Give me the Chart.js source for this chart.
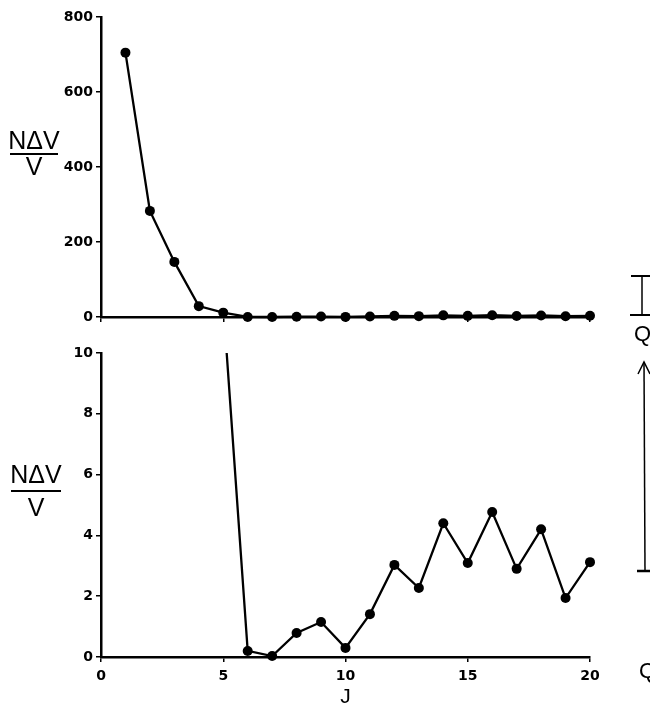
<!DOCTYPE html>
<html>
<head>
<meta charset="utf-8">
<script src="https://cdn.jsdelivr.net/npm/chart.js@4/dist/chart.umd.min.js"></script>
<style>
  body { margin: 0; background: #fff; }
  #wrap { position: relative; width: 650px; height: 710px; overflow: hidden; background: #fff; }
  .cv { position: absolute; left: 0; }
  .lab { position: absolute; font-family: "Liberation Sans", Arial, sans-serif; font-size: 25px; line-height: 25px; color: #000; text-align: center; width: 54px; }
  .bar { position: absolute; height: 2px; background: #000; width: 48px; left: 10px; }
  .q { position: absolute; font-family: "Liberation Sans", Arial, sans-serif; font-size: 22px; line-height: 22px; color: #000; }
</style>
</head>
<body>
<div id="wrap">
  <canvas id="topChart" class="cv" style="top:0" width="600" height="330"></canvas>
  <canvas id="bottomChart" class="cv" style="top:330px" width="600" height="380"></canvas>

  <div class="lab" style="left:7px; top:128px">NΔV</div>
  <div class="bar" style="top:153px"></div>
  <div class="lab" style="left:7px; top:154px">V</div>

  <div class="lab" style="left:9px; top:462px">NΔV</div>
  <div class="bar" style="top:490px; left:11px; width:50px"></div>
  <div class="lab" style="left:9px; top:495px">V</div>

  <svg style="position:absolute; left:0; top:0" width="650" height="710">
    <g stroke="#000" fill="none">
      <line x1="631" y1="276" x2="650" y2="276" stroke-width="2"/>
      <line x1="642" y1="276" x2="642" y2="315" stroke-width="1.5"/>
      <line x1="630" y1="315" x2="650" y2="315" stroke-width="2"/>
      <line x1="644" y1="362" x2="645" y2="571" stroke-width="1.5"/>
      <polyline points="638,374 644,362 650,374" stroke-width="1.5"/>
      <line x1="637" y1="571" x2="650" y2="571" stroke-width="2.5"/>
    </g>
  </svg>
  <div class="q" style="left:634px; top:323px">Q</div>
  <div class="q" style="left:639px; top:660px">Q</div>
</div>
<script>
// J levels and N*dV/V values
const J = [1, 2, 3, 4, 5, 6, 7, 8, 9, 10, 11, 12, 13, 14, 15, 16, 17, 18, 19, 20];
const nDeltaV = [705, 283, 147, 29, 11.6, 0.2, 0.03, 0.79, 1.15, 0.3, 1.41, 3.03, 2.27, 4.4, 3.09, 4.77, 2.9, 4.2, 1.94, 3.12];

const xTicks = [0, 5, 10, 15, 20];
const topYTicks = [0, 200, 400, 600, 800];
const bottomYTicks = [0, 2, 4, 6, 8, 10];

const tickFont = { family: 'DejaVu Sans', size: 14, weight: 'bold' };
const points = J.map((j, i) => ({ x: j, y: nDeltaV[i] }));

function dataset(clip) {
    return {
        data: points,
        borderColor: '#000',
        backgroundColor: '#000',
        borderWidth: 2.3,
        pointRadius: 5,
        pointBackgroundColor: '#000',
        pointBorderWidth: 0,
        tension: 0,
        clip: clip
    };
}

function setTicks(values) {
    return function(scale) {
        scale.ticks = values.map(v => ({ value: v }));
    };
}

// fixed axis height, and no extra side padding for the end labels
function fitX(h) {
    return function(scale) {
        scale.height = h;
        scale.paddingLeft = 0;
        scale.paddingRight = 0;
    };
}

function axisGrid() {
    return { drawOnChartArea: false, drawTicks: true, tickLength: 5, color: '#000', lineWidth: 1.5 };
}

// Top panel: full range
new Chart(document.getElementById('topChart'), {
    type: 'line',
    data: { datasets: [dataset(false)] },
    options: {
        responsive: false,
        animation: false,
        layout: { padding: { top: 17, right: 10, left: 0, bottom: 0 } },
        plugins: { legend: { display: false }, tooltip: { enabled: false } },
        scales: {
            x: {
                type: 'linear', min: 0, max: 20,
                afterBuildTicks: setTicks(xTicks),
                afterFit: fitX(13),
                grid: axisGrid(),
                border: { color: '#000', width: 2.5 },
                ticks: { display: false }
            },
            y: {
                min: 0, max: 800,
                afterBuildTicks: setTicks(topYTicks),
                afterFit: function(scale) { scale.width = 101; },
                grid: axisGrid(),
                border: { color: '#000', width: 2.5 },
                ticks: { color: '#000', font: tickFont, padding: 3 }
            }
        }
    }
});

// Bottom panel: zoomed in on 0-10
new Chart(document.getElementById('bottomChart'), {
    type: 'line',
    data: { datasets: [dataset({ left: 8, right: 8, bottom: 8, top: 0 })] },
    options: {
        responsive: false,
        animation: false,
        layout: { padding: { top: 23, right: 10, left: 0, bottom: 0 } },
        plugins: { legend: { display: false }, tooltip: { enabled: false } },
        scales: {
            x: {
                type: 'linear', min: 0, max: 20,
                afterBuildTicks: setTicks(xTicks),
                afterFit: fitX(53),
                grid: axisGrid(),
                border: { color: '#000', width: 2.5 },
                ticks: { color: '#000', font: tickFont, padding: 6 },
                title: {
                    display: true, text: 'J', color: '#000',
                    font: { family: 'Liberation Sans', size: 21 },
                    padding: { top: 0, bottom: 0 }
                }
            },
            y: {
                min: 0, max: 10,
                afterBuildTicks: setTicks(bottomYTicks),
                afterFit: function(scale) { scale.width = 101; },
                grid: axisGrid(),
                border: { color: '#000', width: 2.5 },
                ticks: { color: '#000', font: tickFont, padding: 3 }
            }
        }
    }
});
</script>
</body>
</html>
